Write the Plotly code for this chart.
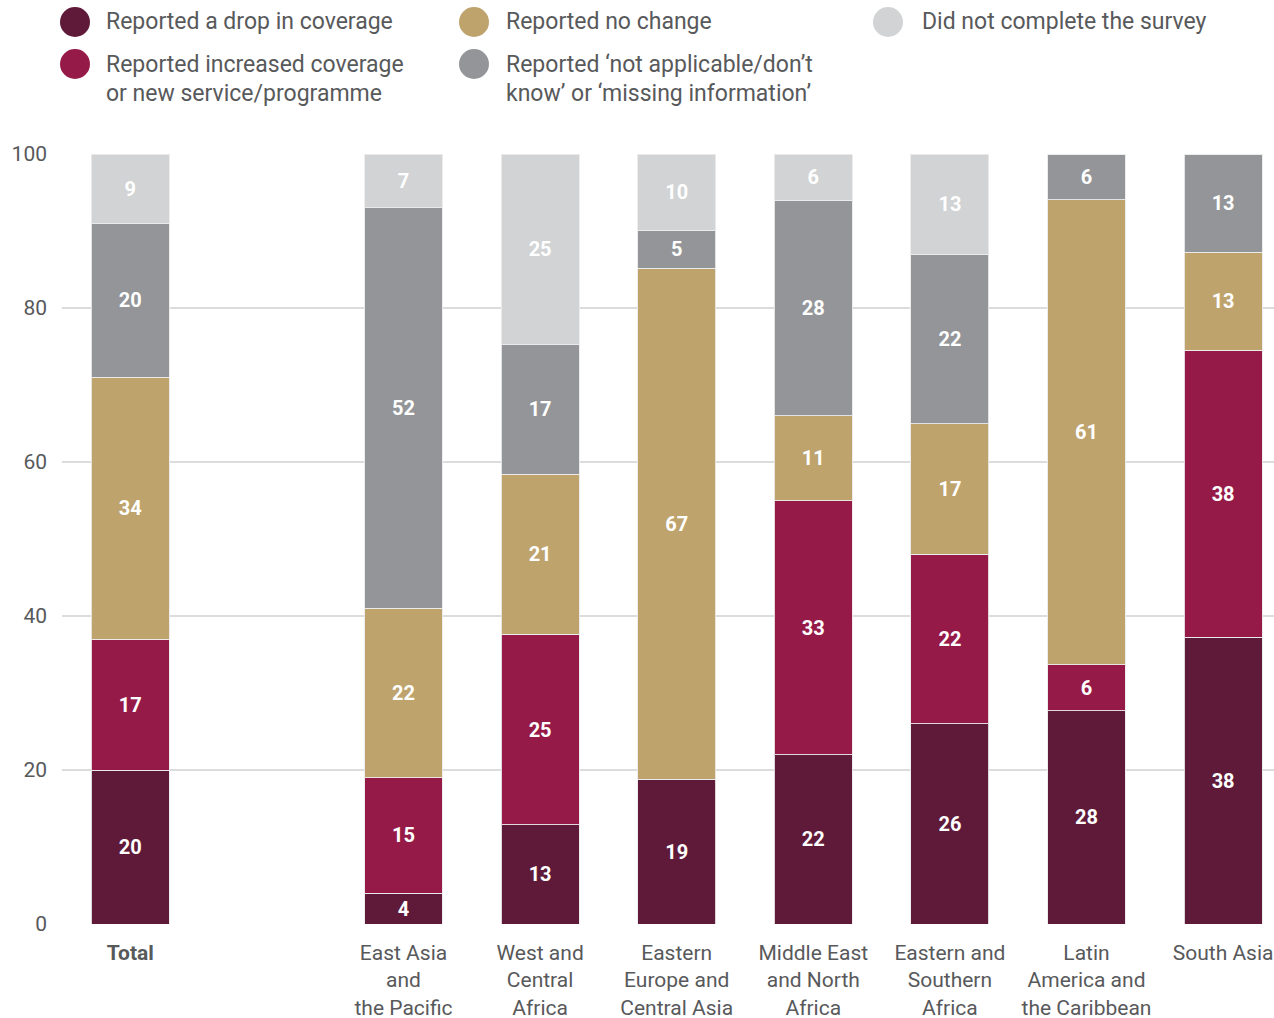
import plotly.graph_objects as go

# Regions (the blank slot keeps a gap between the total and the regional bars)
categories = [
    "<b>Total</b>",
    "East Asia<br>and<br>the Pacific",
    "West and<br>Central<br>Africa",
    "Eastern<br>Europe and<br>Central Asia",
    "Middle East<br>and North<br>Africa",
    "Eastern and<br>Southern<br>Africa",
    "Latin<br>America and<br>the Caribbean",
    "South Asia",
]
axis_order = [categories[0], " "] + categories[1:]

# Share of countries (%) per reported outcome
drop = [20, 4, 13, 19, 22, 26, 28, 38]
increased = [17, 15, 25, 0, 33, 22, 6, 38]
no_change = [34, 22, 21, 67, 11, 17, 61, 13]
not_applicable = [20, 52, 17, 5, 28, 22, 6, 13]
did_not_complete = [9, 7, 25, 10, 6, 13, 0, 0]

series_names = [
    "Reported a drop in coverage",
    "Reported increased coverage<br>or new service/programme",
    "Reported no change",
    "Reported \u2018not applicable/don\u2019t<br>know\u2019 or \u2018missing information\u2019",
    "Did not complete the survey",
]
series_values = [drop, increased, no_change, not_applicable, did_not_complete]
series_colors = ["#5E1A38", "#961A48", "#BEA36C", "#939598", "#D1D3D4"]

W, H = 1274, 1018
M_LEFT, M_TOP, M_BOTTOM = 62, 154, 94
PLOT_W = W - M_LEFT
PLOT_H = H - M_TOP - M_BOTTOM
TEXT_GREY = "#58595B"
FONT = "Roboto, Arial, sans-serif"


def px_x(px):
    return (px - M_LEFT) / PLOT_W


def px_y(py):
    return (H - M_BOTTOM - py) / PLOT_H


fig = go.Figure()
for name, vals, color in zip(series_names, series_values, series_colors):
    fig.add_trace(go.Bar(
        x=categories,
        y=vals,
        name=name.replace("<br>", " "),
        marker=dict(color=color, line=dict(color="rgba(235,235,235,0.9)", width=1)),
        text=[str(v) if v else "" for v in vals],
        textposition="inside",
        insidetextanchor="middle",
        textfont=dict(family=FONT, size=20, color="white", weight="bold"),
        showlegend=False,
    ))

# Legend drawn as circles with labels, laid out in three columns
legend_slots = [
    (75, 22, 104), (75, 64, 104), (474, 22, 504), (474, 64, 504), (888, 22, 920)
]
shapes = []
annotations = []
for (cx, cy, tx), name, color in zip(legend_slots, series_names, series_colors):
    shapes.append(dict(
        type="circle", xref="paper", yref="paper",
        xsizemode="pixel", ysizemode="pixel",
        xanchor=px_x(cx), yanchor=px_y(cy),
        x0=-15, x1=15, y0=-15, y1=15,
        fillcolor=color, line=dict(width=0),
    ))
    for i, line in enumerate(name.split("<br>")):
        annotations.append(dict(
            xref="paper", yref="paper", x=px_x(tx), y=px_y(cy + 30 * i),
            xanchor="left", yanchor="middle", showarrow=False, text=line,
            font=dict(family=FONT, size=23, color=TEXT_GREY),
        ))

fig.update_layout(
    width=W, height=H,
    margin=dict(l=M_LEFT, r=0, t=M_TOP, b=M_BOTTOM, pad=0),
    barmode="stack",
    barnorm="percent",
    bargap=0.43,
    plot_bgcolor="white",
    paper_bgcolor="white",
    font=dict(family=FONT, color=TEXT_GREY),
    uniformtext=dict(minsize=20, mode="show"),
    shapes=shapes,
    annotations=annotations,
    xaxis=dict(
        type="category",
        categoryorder="array",
        categoryarray=axis_order,
        range=[-0.5, -0.5 + PLOT_W / 136.6],
        showgrid=False, showline=False, ticks="",
        tickfont=dict(family=FONT, size=21, color=TEXT_GREY),
        ticklabelstandoff=14,
        automargin=False,
    ),
    yaxis=dict(
        range=[0, 100],
        tickvals=[0, 20, 40, 60, 80, 100],
        showgrid=True, gridcolor="#DCDCDC", gridwidth=2,
        zeroline=False, showline=False, ticks="",
        tickfont=dict(family=FONT, size=21, color=TEXT_GREY),
        ticklabelstandoff=14,
        automargin=False,
    ),
)

fig.write_html("out.html")
